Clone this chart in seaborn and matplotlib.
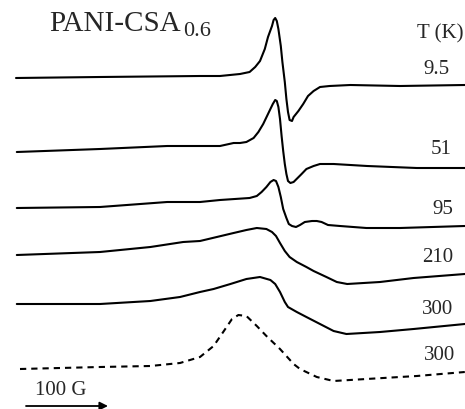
import numpy as np
import matplotlib
matplotlib.use('Agg')
import matplotlib.pyplot as plt
import seaborn as sns

# ESR derivative spectra of PANI-CSA at several temperatures
# field in G (relative), signal in arbitrary units
temps = ['9.5', '51', '95', '210', '300', '300']

field_9k = [0, 105, 230, 255, 280, 292, 299, 305, 311, 315, 320, 322, 324, 326, 328,
            331, 333, 336, 338, 340, 342, 345, 347, 353, 359, 365, 372, 380, 392,
            418, 480, 561]
signal_9k = [0, 1, 2, 2, 4, 6, 11, 17, 29, 41, 52, 58, 60, 57, 49,
             32, 16, -4, -21, -34, -42, -43, -39, -33, -26, -18, -13, -9, -8,
             -7, -8, -7]

field_51k = [1, 105, 189, 255, 272, 280, 288, 297, 303, 309, 315, 321, 324, 326, 328,
             330, 332, 334, 336, 338, 340, 343, 347, 352, 357, 363, 372, 380, 397,
             418, 439, 501, 561]
signal_51k = [0, 3, 6, 6, 9, 9, 10, 14, 20, 28, 38, 48, 52, 51, 45,
              33, 16, 1, -12, -22, -29, -31, -30, -26, -22, -17, -14, -12, -12,
              -13, -14, -16, -16]

field_95k = [1, 105, 189, 230, 255, 292, 301, 307, 313, 318, 322, 325, 328, 331, 334,
             338, 341, 345, 350, 355, 361, 370, 376, 382, 390, 405, 438, 480, 561]
signal_95k = [0, 1, 6, 6, 8, 10, 12, 16, 21, 26, 28, 27, 21, 11, -1,
              -10, -16, -18, -19, -17, -14, -13, -13, -14, -17, -18, -20, -20, -18]

field_210k = [1, 105, 168, 209, 230, 251, 272, 288, 301, 313, 320, 325, 330, 336,
              342, 351, 363, 372, 388, 401, 414, 455, 497, 561]
signal_210k = [0, 3, 8, 13, 14, 18, 22, 25, 27, 26, 23, 19, 12, 4,
               -2, -7, -12, -16, -22, -27, -29, -27, -23, -19]

field_300k = [1, 105, 168, 205, 230, 247, 268, 288, 305, 318, 324, 330, 336, 340,
              351, 363, 380, 397, 413, 434, 455, 497, 561]
signal_300k = [0, 0, 3, 7, 12, 15, 20, 25, 27, 24, 20, 12, 2, -3,
               -8, -13, -20, -27, -30, -29, -28, -25, -20]

field_300k_b = [5, 105, 168, 205, 230, 247, 259, 270, 278, 288, 301, 313, 330, 347,
                355, 376, 397, 438, 501, 561]
signal_300k_b = [0, 2, 3, 6, 12, 23, 37, 50, 54, 53, 43, 33, 20, 5,
                 0, -8, -12, -10, -7, -3]

fields = [field_9k, field_51k, field_95k, field_210k, field_300k, field_300k_b]
signals = [signal_9k, signal_51k, signal_95k, signal_210k, signal_300k, signal_300k_b]

# vertical stacking of the traces and label placement (pixels)
offsets = [79, 153, 209, 256, 305, 370]
styles = ['-', '-', '-', '-', '-', (0, (3, 2.4))]
label_x = [449, 452, 453, 453, 453, 455]
label_y = [70, 149, 210, 257, 310, 356]

sns.set_style('white')
plt.rcParams['font.family'] = ['Liberation Serif', 'DejaVu Serif']

fig = plt.figure(figsize=(4.65, 4.10), dpi=100)
ax = fig.add_axes([0, 0, 1, 1])

for f, s, off, ls in zip(fields, signals, offsets, styles):
    y = np.array(s) - off
    sns.lineplot(x=f, y=y, ax=ax, color='black', linewidth=1.5, linestyle=ls,
                 estimator=None, sort=False, solid_joinstyle='round')

ax.set_xlim(-20, 561.25)
ax.set_ylim(-410, 0)
ax.axis('off')

W, H = 465.0, 410.0
ax.text(49 / W, 1 - 24 / H, 'PANI-CSA', transform=ax.transAxes, fontsize=21,
        va='center', ha='left')
ax.text(183 / W, 1 - 31 / H, '0.6', transform=ax.transAxes, fontsize=16,
        va='center', ha='left')
ax.text(417 / W, 1 - 34 / H, 'T (K)', transform=ax.transAxes, fontsize=15,
        va='center', ha='left')

for t, lx, ly in zip(temps, label_x, label_y):
    ax.text(lx / W, 1 - ly / H, t, transform=ax.transAxes, fontsize=15,
            va='center', ha='right')

# field scale bar
ax.text(35 / W, 1 - 391 / H, '100 G', transform=ax.transAxes, fontsize=15,
        va='center', ha='left')
ax.annotate('', xy=(108 / W, 1 - 407 / H), xytext=(26 / W, 1 - 407 / H),
            xycoords='axes fraction', textcoords='axes fraction',
            arrowprops=dict(arrowstyle='-|>', color='black', lw=1.3,
                            mutation_scale=12, shrinkA=0, shrinkB=0))

fig.savefig('out.png', dpi=100)
